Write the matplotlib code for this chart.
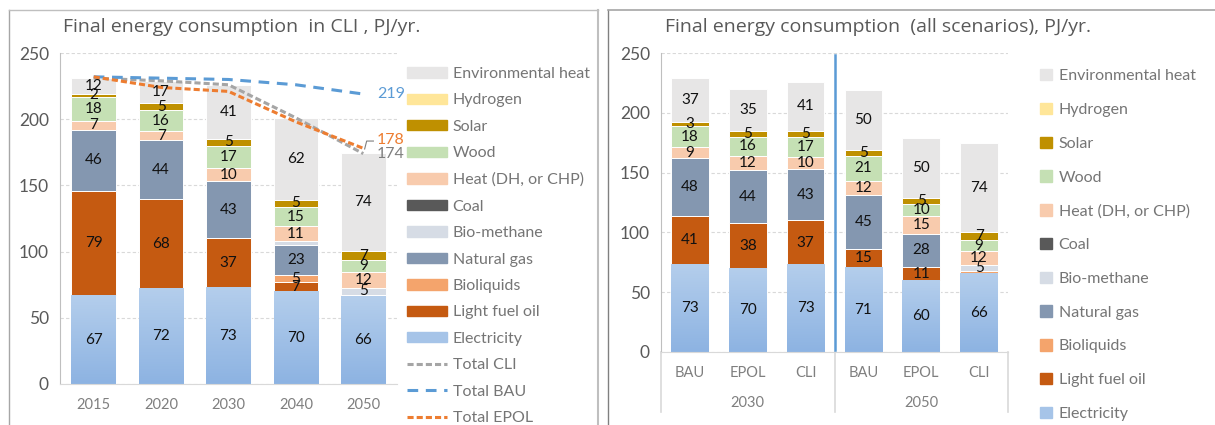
import numpy as np
import matplotlib
matplotlib.use('Agg')
import matplotlib.pyplot as plt
import matplotlib.transforms as mtransforms
from matplotlib.patches import Patch
from matplotlib.lines import Line2D
from matplotlib.colors import LinearSegmentedColormap

plt.rcParams['font.family'] = ['Lato', 'DejaVu Sans']

# left chart: CLI scenario over the years, PJ/yr
years = ['2015', '2020', '2030', '2040', '2050']
cli_electricity = [67, 72, 73, 70, 66]
cli_light_fuel_oil = [79, 68, 37, 7, 0]
cli_bioliquids = [0, 0, 0, 5, 1.5]
cli_natural_gas = [46, 44, 43, 23, 0]
cli_bio_methane = [0, 0, 0, 3, 5]
cli_coal = [0, 0, 0, 0, 0]
cli_heat = [7, 7, 10, 11, 12]
cli_wood = [18, 16, 17, 15, 9]
cli_solar = [2, 5, 5, 5, 7]
cli_hydrogen = [0, 0, 0, 0, 0]
cli_env_heat = [12, 17, 41, 62, 74]

total_cli = [231, 229, 226, 201, 174]
total_bau = [232, 231, 230, 226, 219]
total_epol = [232, 224, 221, 198, 178]

# right chart: all scenarios in 2030 and 2050
scenarios = ['BAU', 'EPOL', 'CLI', 'BAU', 'EPOL', 'CLI']
scen_years = ['2030', '2050']
sc_electricity = [73, 70, 73, 71, 60, 66]
sc_light_fuel_oil = [41, 38, 37, 15, 11, 0]
sc_bioliquids = [0, 0, 0, 0, 0, 1.5]
sc_natural_gas = [48, 44, 43, 45, 28, 0]
sc_bio_methane = [0, 0, 0, 0, 0, 5]
sc_coal = [0, 0, 0, 0, 0, 0]
sc_heat = [9, 12, 10, 12, 15, 12]
sc_wood = [18, 16, 17, 21, 10, 9]
sc_solar = [3, 5, 5, 5, 5, 7]
sc_hydrogen = [0, 0, 0, 0, 0, 0]
sc_env_heat = [37, 35, 41, 50, 50, 74]

fuels = ['Electricity', 'Light fuel oil', 'Bioliquids', 'Natural gas', 'Bio-methane', 'Coal',
         'Heat (DH, or CHP)', 'Wood', 'Solar', 'Hydrogen', 'Environmental heat']
colors = ['#A6C4E8', '#C55A11', '#F4A46C', '#8497B0', '#D6DCE5', '#595959',
          '#F8CBAD', '#C5E0B4', '#BF9000', '#FFE699', '#E7E6E6']

GRAY = '#595959'
LEG_GRAY = '#757575'
elec_cmap = LinearSegmentedColormap.from_list('elec', ['#B4CEEC', '#8DB3E2'])
grad = np.linspace(0, 1, 100).reshape(-1, 1)


def draw_stack(ax, series, width):
    x = np.arange(len(series[0]))
    bottom = np.zeros(len(x))
    for name, vals, col in zip(fuels, series, colors):
        vals = np.array(vals, float)
        bars = ax.bar(x, vals, width, bottom=bottom, color=col, edgecolor='white',
                      linewidth=0.7, zorder=2)
        if name == 'Electricity':
            for b in bars:
                ax.imshow(grad, extent=(b.get_x(), b.get_x() + b.get_width(), b.get_y(),
                                        b.get_y() + b.get_height()),
                          aspect='auto', cmap=elec_cmap, zorder=2.5)
        for xi, v, b0 in zip(x, vals, bottom):
            if v >= 4 or (name == 'Solar' and v > 0):
                ax.text(xi, b0 + v / 2, f'{v:.0f}', ha='center', va='center',
                        fontsize=11, color='#111111', zorder=5)
        bottom += vals
    return x


def style_axes(ax, n):
    ax.set_xlim(-0.5, n - 0.5)
    ax.set_ylim(0, 250)
    ax.set_yticks(range(0, 251, 50))
    ax.yaxis.grid(True, color='#D9D9D9', lw=0.8, ls=(0, (3, 2)), zorder=0)
    ax.set_axisbelow(True)
    for s in ['top', 'right']:
        ax.spines[s].set_visible(False)
    ax.spines['left'].set_color('#BFBFBF')
    ax.spines['bottom'].set_color('#D9D9D9')
    ax.tick_params(axis='y', length=0, labelsize=12.5, labelcolor=GRAY, pad=8)
    ax.tick_params(axis='x', length=0, labelsize=10.5, labelcolor='#7F7F7F')


fig = plt.figure(figsize=(12.15, 4.25), dpi=100)

# panel frames
fig.add_artist(Line2D([9 / 1215, 9 / 1215], [0, 1 - 10 / 425], color='#A6A6A6', lw=1))
fig.add_artist(Line2D([9 / 1215, 598 / 1215], [1 - 10 / 425, 1 - 10 / 425], color='#BFBFBF', lw=1))
fig.add_artist(Line2D([598 / 1215, 598 / 1215], [0, 1 - 10 / 425], color='#BFBFBF', lw=1.5))
fig.add_artist(Line2D([608 / 1215, 608 / 1215], [0, 1 - 10 / 425], color='#808080', lw=1))
fig.add_artist(Line2D([608 / 1215, 1], [1 - 10 / 425, 1 - 10 / 425], color='#A6A6A6', lw=1.2))

# ---- left chart ----
ax1 = fig.add_axes([60 / 1215, 41 / 425, 337 / 1215, 331 / 425])
series1 = [cli_electricity, cli_light_fuel_oil, cli_bioliquids, cli_natural_gas, cli_bio_methane,
           cli_coal, cli_heat, cli_wood, cli_solar, cli_hydrogen, cli_env_heat]
x1 = draw_stack(ax1, series1, 0.66)
l_cli, = ax1.plot(x1, total_cli, color='#A5A5A5', lw=2.2, dashes=(2, 1), zorder=4)
l_bau, = ax1.plot(x1, total_bau, color='#5B9BD5', lw=2.2, dashes=(3.5, 2.5), zorder=4)
l_epol, = ax1.plot(x1, total_epol, color='#ED7D31', lw=2.2, dashes=(2, 1), zorder=4)
style_axes(ax1, len(years))
ax1.set_xticks(x1, years)
ax1.tick_params(axis='x', pad=10)
ax1.text(x1[-1] + 0.2, total_bau[-1], f'{total_bau[-1]}', color='#5B9BD5', fontsize=11.5, va='center')
ax1.text(x1[-1] + 0.2, total_epol[-1] + 6, f'{total_epol[-1]}', color='#ED7D31', fontsize=11.5, va='center')
ax1.text(x1[-1] + 0.2, total_cli[-1], f'{total_cli[-1]}', color='#7F7F7F', fontsize=11.5, va='center')
ax1.plot([x1[-1] + 0.02, x1[-1] + 0.05, x1[-1] + 0.15], [total_epol[-1] - 0.5, total_epol[-1] + 5.5, total_epol[-1] + 5.5],
         color='#7F7F7F', lw=0.8, zorder=5, clip_on=False)
fig.text(63 / 1215, 1 - 27 / 425, 'Final energy consumption  in CLI , PJ/yr.', fontsize=14,
         family=['Open Sans', 'DejaVu Sans'], color=GRAY, va='center', ha='left')

handles1 = [Patch(color=c, label=f) for f, c in zip(fuels[::-1], colors[::-1])]
handles1 += [Line2D([], [], color='#A5A5A5', lw=2.2, dashes=(2, 1), label='Total CLI'),
             Line2D([], [], color='#5B9BD5', lw=2.2, dashes=(3.5, 2.5), label='Total BAU'),
             Line2D([], [], color='#ED7D31', lw=2.2, dashes=(2, 1), label='Total EPOL')]
fig.legend(handles=handles1, loc='upper left', bbox_to_anchor=(407 / 1215, 1 - 67 / 425),
           frameon=False, fontsize=11.5, labelcolor=LEG_GRAY, handlelength=2.5, handleheight=0.62,
           handletextpad=0.35, labelspacing=0.78, borderpad=0, borderaxespad=0)

# ---- right chart ----
ax2 = fig.add_axes([661 / 1215, 73 / 425, 347 / 1215, 299 / 425])
series2 = [sc_electricity, sc_light_fuel_oil, sc_bioliquids, sc_natural_gas, sc_bio_methane,
           sc_coal, sc_heat, sc_wood, sc_solar, sc_hydrogen, sc_env_heat]
x2 = draw_stack(ax2, series2, 0.65)
style_axes(ax2, len(scenarios))
ax2.set_xticks(x2, scenarios)
ax2.tick_params(axis='x', pad=10)
ax2.plot([2.5, 2.5], [2, 248], color='#5B9BD5', lw=1.8, zorder=4)
trans = mtransforms.blended_transform_factory(ax2.transData, ax2.transAxes)
for i, yr in enumerate(scen_years):
    ax2.text(3 * i + 1, -0.17, yr, transform=trans, ha='center', va='center', fontsize=10.5,
             color='#7F7F7F')
for xs in [-0.5, 2.5, 5.5]:
    ax2.plot([xs, xs], [0, -0.2], transform=trans, color='#D9D9D9', lw=1.2, clip_on=False)
fig.text(665 / 1215, 1 - 27 / 425, 'Final energy consumption  (all scenarios), PJ/yr.', fontsize=14,
         family=['Open Sans', 'DejaVu Sans'], color=GRAY, va='center', ha='left')

handles2 = [Patch(color=c, label=f) for f, c in zip(fuels[::-1], colors[::-1])]
fig.legend(handles=handles2, loc='upper left', bbox_to_anchor=(1040 / 1215, 1 - 69 / 425),
           frameon=False, fontsize=11.5, labelcolor=LEG_GRAY, handlelength=0.72, handleheight=0.72,
           handletextpad=0.45, labelspacing=1.22, borderpad=0, borderaxespad=0)

fig.savefig('out.png', dpi=100)
